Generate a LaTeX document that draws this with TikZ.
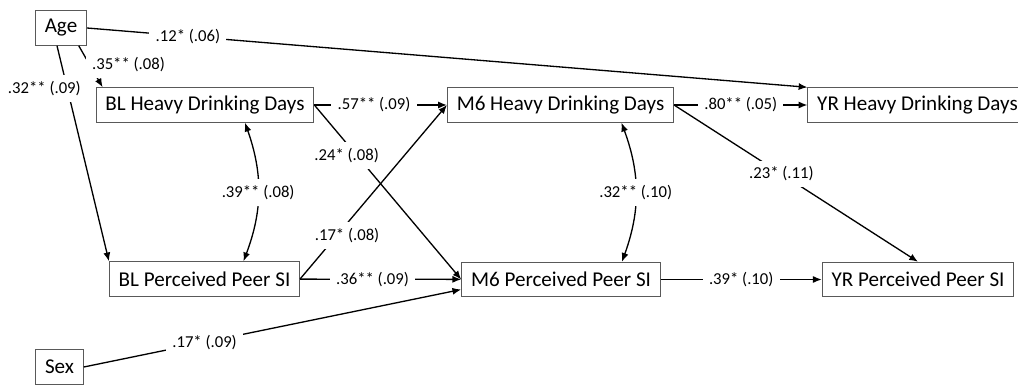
\documentclass[tikz,border=0pt]{standalone}
\usepackage{fontspec}
\setmainfont{Carlito}
\usetikzlibrary{arrows.meta,calc}

\begin{document}
\begin{tikzpicture}[x=0.02cm, y=-0.02cm,
  my box/.style={
    draw=black!65, line width=0.55pt, text=black,
    font=\fontsize{12}{14}\selectfont,
    inner xsep=5.3pt, minimum height=0.69cm,
  },
  my label/.style={
    fill=white, inner sep=3.5pt, text=black,
    font=\fontsize{9.5}{11}\selectfont,
  },
  my path/.style={
    -{Latex[length=5pt,width=4pt]}, line width=0.75pt, black,
  },
  my cov/.style={
    {Latex[length=5pt,width=4pt]}-{Latex[length=5pt,width=4pt]},
    line width=0.75pt, black,
  }]
  \useasboundingbox (0,0) rectangle (1018,385);

  \node[my box] (age) at (61,28) {Age};
  \node[my box] (sex) at (59.5,367) {Sex};
  \node[my box] (blhd) at (205,105) {BL Heavy Drinking Days};
  \node[my box] (blsi) at (204.5,279) {BL Perceived Peer SI};
  \node[my box] (mhd) at (560.5,105) {M6 Heavy Drinking Days};
  \node[my box] (msi) at (561,279.5) {M6 Perceived Peer SI};
  \node[my box] (yhd) at (917.5,105) {YR Heavy Drinking Days};
  \node[my box] (ysi) at (918,279.5) {YR Perceived Peer SI};

  % paths
  \draw[my path] (age.east) -- node[my label, pos=.14] {.12* (.06)} (yhd.north west);
  \draw[my path] (age.-45) -- node[my label, pos=.45, xshift=.78cm] {.35** (.08)} ($(blhd.north west)+(7,0)$);
  \draw[my path] ($(age.south)+(-4,0)$) -- node[my label, pos=.2, xshift=-.46cm] {.32** (.09)} (blsi.north west);
  \draw[my path] (blhd) -- node[my label, pos=.45] {.57** (.09)} (mhd);
  \draw[my path] (blhd.east) -- node[my label, pos=.22, yshift=-.24cm] {.24* (.08)} (msi.west);
  \draw[my path] (blsi.east) -- node[my label, pos=.32, yshift=-.24cm] {.17* (.08)} (mhd.west);
  \draw[my path] (blsi) -- node[my label, pos=.45] {.36** (.09)} (msi);
  \draw[my path] (sex.east) -- node[my label, pos=.32] {.17* (.09)} ($(msi.west)+(0,10)$);
  \draw[my path] (mhd) -- node[my label] {.80** (.05)} (yhd);
  \draw[my path] (mhd.east) -- node[my label, pos=.44] {.23* (.11)} (ysi.north);
  \draw[my path] (msi) -- node[my label] {.39* (.10)} (ysi);

  % covariances
  \draw[my cov] ($(blhd.south)+(40,0)$) to[bend left=20] node[my label] {.39** (.08)} ($(blsi.north)+(39,0)$);
  \draw[my cov] ($(mhd.south)+(61,0)$) to[bend left=20] node[my label] {.32** (.10)} ($(msi.north)+(61,0)$);
\end{tikzpicture}
\end{document}
